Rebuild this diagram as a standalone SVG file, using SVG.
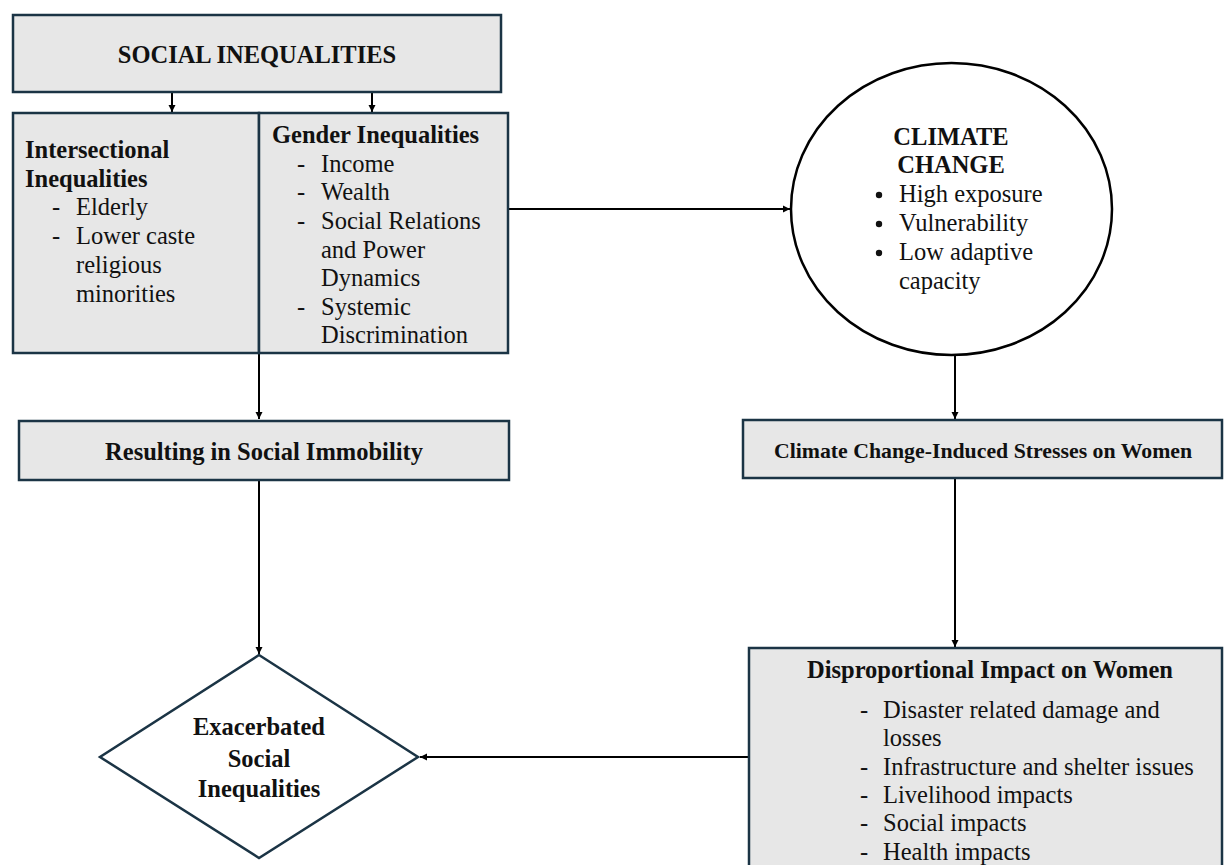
<svg xmlns="http://www.w3.org/2000/svg" width="1232" height="865" viewBox="0 0 1232 865">
<defs>
<marker id="ah" markerWidth="8" markerHeight="8" refX="7" refY="4" orient="auto" markerUnits="userSpaceOnUse">
<path d="M0,0.5 L7,4 L0,7.5 z" fill="#000"/>
</marker>
<style>
.box{fill:#e7e7e7;stroke:#1b3445;stroke-width:2.5}
.t{font-family:'Liberation Serif','Times New Roman',serif;font-size:24.5px;fill:#111}
.b{font-weight:bold}
.c{text-anchor:middle}
.con{stroke:#000;stroke-width:2;fill:none}
</style>
</defs>
<rect width="1232" height="865" fill="#fff"/>

<g id="connectors">
<line class="con" x1="172" y1="92" x2="172" y2="112" marker-end="url(#ah)"/>
<line class="con" x1="372" y1="92" x2="372" y2="112" marker-end="url(#ah)"/>
<line class="con" x1="508" y1="209" x2="790" y2="209" marker-end="url(#ah)"/>
<line class="con" x1="259" y1="353" x2="259" y2="419" marker-end="url(#ah)"/>
<line class="con" x1="955" y1="355" x2="955" y2="419" marker-end="url(#ah)"/>
<line class="con" x1="259" y1="481" x2="259" y2="654" marker-end="url(#ah)"/>
<line class="con" x1="955" y1="478" x2="955" y2="647" marker-end="url(#ah)"/>
<line class="con" x1="749" y1="757" x2="420" y2="757" marker-end="url(#ah)"/>
</g>

<g id="social-inequalities">
<rect class="box" x="13" y="15" width="488" height="77"/>
<text class="t b c" x="257" y="63">SOCIAL INEQUALITIES</text>
</g>

<g id="intersectional">
<rect class="box" x="13" y="113" width="246" height="240"/>
<text class="t b" x="25" y="158">Intersectional</text>
<text class="t b" x="25" y="187">Inequalities</text>
<text class="t" x="52" y="215">-</text><text class="t" x="76" y="215">Elderly</text>
<text class="t" x="52" y="244">-</text><text class="t" x="76" y="244">Lower caste</text>
<text class="t" x="76" y="273">religious</text>
<text class="t" x="76" y="302">minorities</text>
</g>

<g id="gender">
<rect class="box" x="259" y="113" width="249" height="240"/>
<text class="t b" x="272" y="143">Gender Inequalities</text>
<text class="t" x="297" y="172">-</text><text class="t" x="321" y="172">Income</text>
<text class="t" x="297" y="200">-</text><text class="t" x="321" y="200">Wealth</text>
<text class="t" x="297" y="229">-</text><text class="t" x="321" y="229">Social Relations</text>
<text class="t" x="321" y="258">and Power</text>
<text class="t" x="321" y="286">Dynamics</text>
<text class="t" x="297" y="315">-</text><text class="t" x="321" y="315">Systemic</text>
<text class="t" x="321" y="343">Discrimination</text>
</g>

<g id="climate-change">
<ellipse cx="951.5" cy="209" rx="160.5" ry="146" fill="#fff" stroke="#000" stroke-width="2.5"/>
<text class="t b c" x="951" y="145">CLIMATE</text>
<text class="t b c" x="951" y="173">CHANGE</text>
<circle cx="879" cy="195" r="3.2" fill="#111"/><text class="t" x="899" y="202">High exposure</text>
<circle cx="879" cy="224" r="3.2" fill="#111"/><text class="t" x="899" y="231">Vulnerability</text>
<circle cx="879" cy="253" r="3.2" fill="#111"/><text class="t" x="899" y="260">Low adaptive</text>
<text class="t" x="899" y="289">capacity</text>
</g>

<g id="social-immobility">
<rect class="box" x="19" y="421" width="490" height="59"/>
<text class="t b c" x="264" y="460">Resulting in Social Immobility</text>
</g>

<g id="climate-stresses">
<rect class="box" x="743" y="420" width="479" height="58"/>
<text class="t b c" x="983" y="458" style="font-size:21.8px">Climate Change-Induced Stresses on Women</text>
</g>

<g id="exacerbated">
<polygon points="259,655 418,757 259,858 100,757" fill="#fff" stroke="#1b3445" stroke-width="2.5"/>
<text class="t b c" x="259" y="735">Exacerbated</text>
<text class="t b c" x="259" y="767">Social</text>
<text class="t b c" x="259" y="797">Inequalities</text>
</g>

<g id="disproportional">
<rect class="box" x="749" y="648" width="473" height="240"/>
<text class="t b c" x="990" y="678">Disproportional Impact on Women</text>
<text class="t" x="860" y="718">-</text><text class="t" x="883" y="718">Disaster related damage and</text>
<text class="t" x="883" y="746">losses</text>
<text class="t" x="860" y="775">-</text><text class="t" x="883" y="775">Infrastructure and shelter issues</text>
<text class="t" x="860" y="803">-</text><text class="t" x="883" y="803">Livelihood impacts</text>
<text class="t" x="860" y="831">-</text><text class="t" x="883" y="831">Social impacts</text>
<text class="t" x="860" y="860">-</text><text class="t" x="883" y="860">Health impacts</text>
</g>
</svg>
